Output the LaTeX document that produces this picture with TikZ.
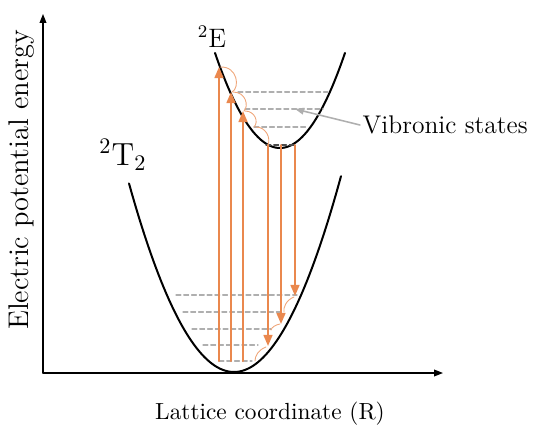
\documentclass[tikz,border=0pt]{standalone}
\usetikzlibrary{arrows.meta}

\definecolor{transorange}{RGB}{234,136,78}
\definecolor{levelgray}{RGB}{175,175,175}

\begin{document}
\begin{tikzpicture}[x=0.45pt,y=-0.45pt,line cap=round,line join=round,
    axis/.style={black,line width=0.6pt,-{Triangle[length=4pt,width=3pt]}},
    curve/.style={black,line width=0.9pt},
    level/.style={levelgray,dash pattern=on 2.2pt off 1.3pt,line width=0.5pt},
    bottomlevel/.style={black!70,dash pattern=on 2.2pt off 1.3pt,line width=0.5pt},
    transition/.style={transorange,line width=0.9pt,-{Triangle[length=5pt,width=4pt]}},
    relax/.style={transorange!75,line width=0.4pt},
    pointer/.style={levelgray,line width=0.7pt,-{Triangle[length=4pt,width=3pt]}}]
  \useasboundingbox (0,0) rectangle (536,435);

  % axes
  \coordinate (O) at (43,373);
  \coordinate (ytop) at (43,14);
  \coordinate (xend) at (443,373);
  \draw[axis] (O) -- (ytop);
  \draw[axis] (O) -- (xend);

  % potential curves
  \draw[curve] plot[domain=129:341,samples=80] (\x,{372-0.0171*(\x-234)^2});
  \draw[curve] plot[domain=215:345,samples=80] (\x,{148-0.0225*(\x-280)^2});

  % vibronic levels of the upper curve
  \draw[level] (238,92) -- (328,92);
  \draw[level] (245,109) -- (323,109);
  \draw[level] (254,127) -- (308,127);
  \draw[bottomlevel] (266,145) -- (296,145);

  % vibronic levels of the lower curve
  \draw[level] (176,295) -- (297,295);
  \draw[level] (183,312) -- (284,312);
  \draw[level] (192,329) -- (271,329);
  \draw[level] (203,345) -- (258,345);
  \draw[level] (219,361) -- (252,361);

  % absorption
  \coordinate (a1) at (219,361);
  \coordinate (a2) at (231,361);
  \coordinate (a3) at (243,361);
  \coordinate (u1) at (219,67);
  \coordinate (u2) at (231,92);
  \coordinate (u3) at (243,111);
  \draw[transition] (a1) -- (u1);
  \draw[transition] (a2) -- (u2);
  \draw[transition] (a3) -- (u3);

  % emission
  \coordinate (e1) at (268,145);
  \coordinate (e2) at (281,145);
  \coordinate (e3) at (295,145);
  \coordinate (d1) at (268,346);
  \coordinate (d2) at (281,324);
  \coordinate (d3) at (295,296);
  \draw[transition] (e1) -- (d1);
  \draw[transition] (e2) -- (d2);
  \draw[transition] (e3) -- (d3);

  % non-radiative relaxation
  \draw[relax] (220,67) .. controls (238,66) and (240,88) .. (232,92);
  \draw[relax] (233,92) .. controls (246,92) and (249,106) .. (244,111);
  \draw[relax] (245,111) .. controls (255,111) and (259,122) .. (254,127);
  \draw[relax] (256,127) .. controls (266,127) and (271,138) .. (268,145);
  \draw[relax] (294,297) .. controls (286,300) and (283,308) .. (284,312);
  \draw[relax] (280,324) .. controls (275,325) and (272,327) .. (271,330);
  \draw[relax] (266,347) .. controls (258,350) and (255,356) .. (255,361);

  % labels
  \node (Elabel) at (212,37) {\large $^2$E};
  \node (Tlabel) at (123,155) {\Large $^2$T$_2$};
  \node[anchor=west,inner sep=1pt] (vib) at (360,125) {\fontsize{11.5}{14}\selectfont Vibronic states};
  \draw[pointer] (vib.west) -- (295,109);
  \node[rotate=90] (ylab) at (22,180) {\fontsize{12.8}{15}\selectfont Electric potential energy};
  \node (xlab) at (270,414) {\fontsize{10.5}{13}\selectfont Lattice coordinate (R)};
\end{tikzpicture}
\end{document}
